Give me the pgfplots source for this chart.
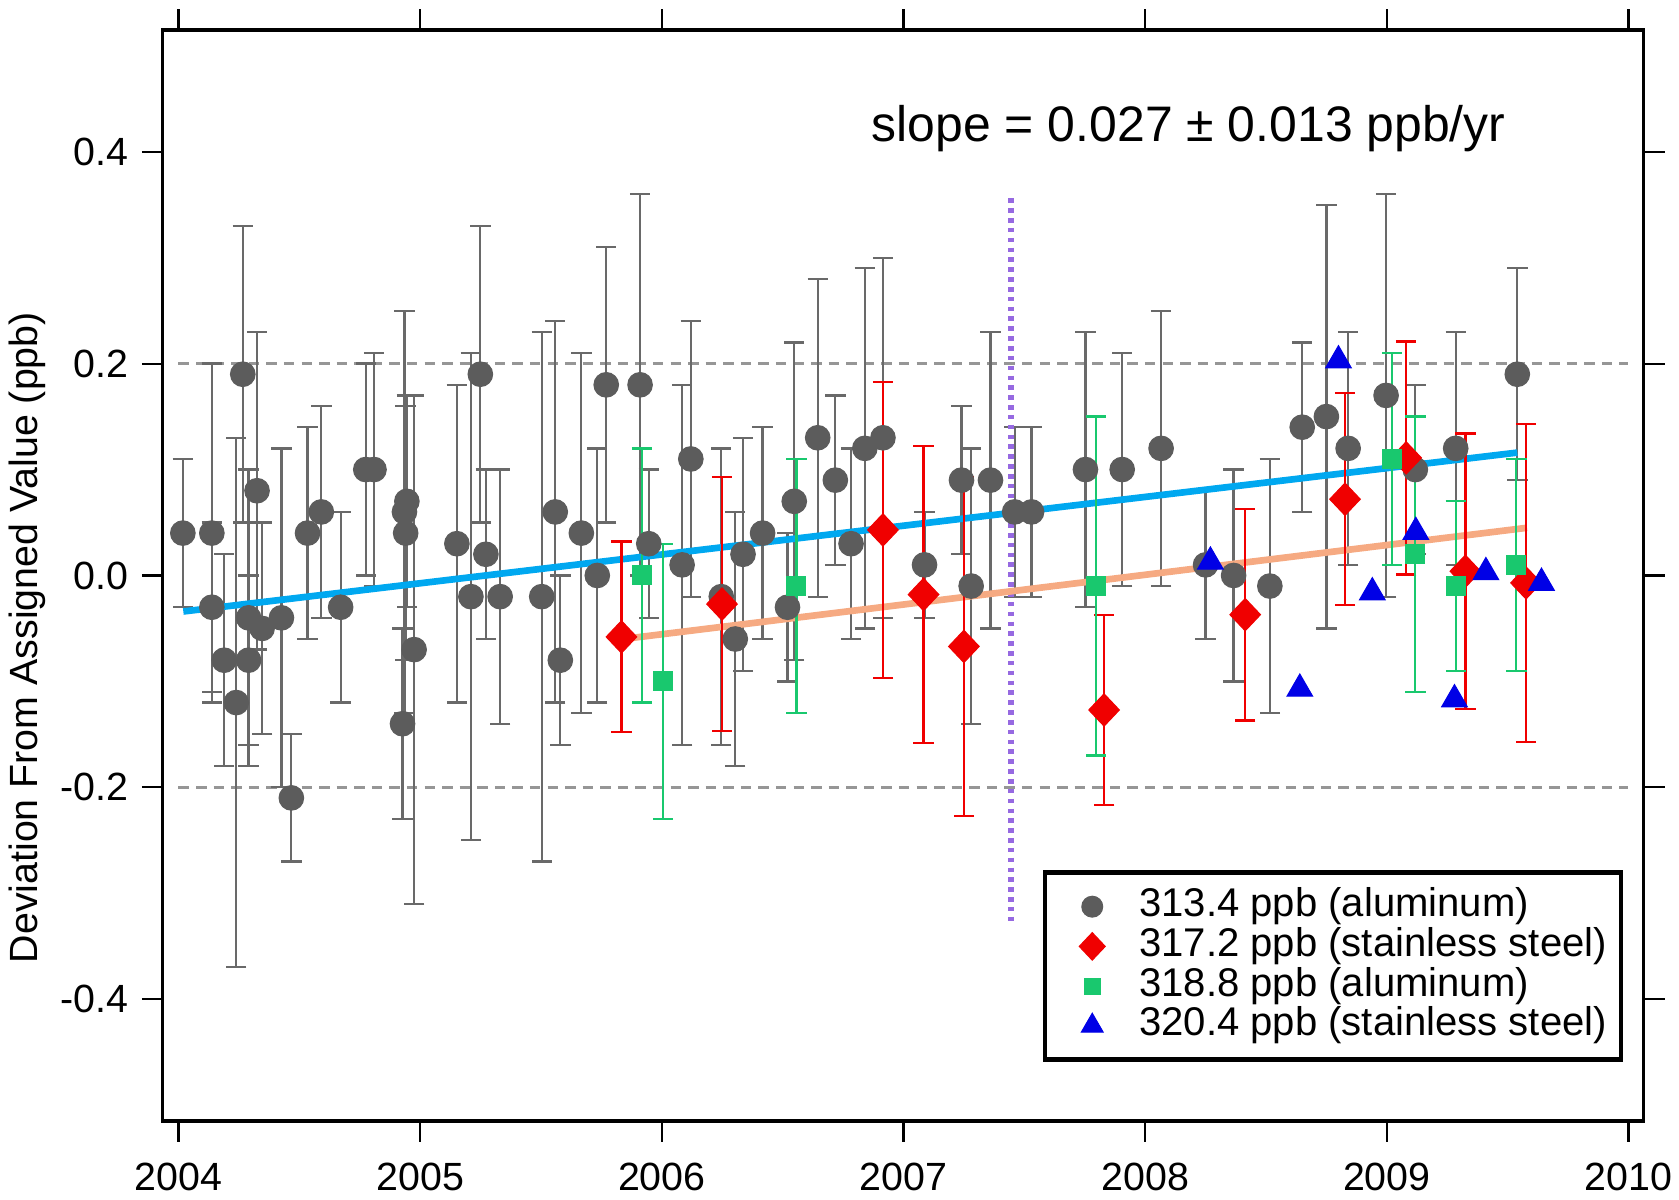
\documentclass[border=0pt]{standalone}
\usepackage{pgfplots}
\usepackage{pgfplotstable}
\pgfplotsset{compat=1.18}
\usepackage{fontspec}
\setmainfont{Liberation Sans}
\definecolor{cgray}{RGB}{92,92,92}
\definecolor{cbar}{RGB}{105,105,105}
\definecolor{cred}{RGB}{240,0,0}
\definecolor{cgreen}{RGB}{25,200,110}
\definecolor{cblue}{RGB}{0,0,230}
\definecolor{cline}{RGB}{0,168,240}
\definecolor{corange}{RGB}{246,170,130}
\definecolor{cpurple}{RGB}{150,105,225}
\definecolor{cdash}{RGB}{150,150,150}

\pgfplotstableread{
x y e
2004.018 0.04 0.07
2004.138 0.04 0.16
2004.138 -0.03 0.08
2004.189 -0.08 0.10
2004.239 -0.12 0.25
2004.266 0.19 0.14
2004.290 -0.04 0.14
2004.290 -0.08 0.08
2004.325 0.08 0.15
2004.346 -0.05 0.10
2004.426 -0.04 0.16
2004.467 -0.21 0.06
2004.534 0.04 0.10
2004.591 0.06 0.10
2004.671 -0.03 0.09
2004.775 0.10 0.10
2004.809 0.10 0.11
2004.927 -0.14 0.09
2004.935 0.06 0.19
2004.945 0.07 0.10
2004.940 0.04 0.12
2004.975 -0.07 0.24
2005.152 0.03 0.15
2005.210 -0.02 0.23
2005.249 0.19 0.14
2005.272 0.02 0.08
2005.331 -0.02 0.12
2005.503 -0.02 0.25
2005.559 0.06 0.18
2005.580 -0.08 0.08
2005.667 0.04 0.17
2005.733 0.00 0.12
2005.770 0.18 0.13
2005.910 0.18 0.18
2005.946 0.03 0.07
2006.084 0.01 0.17
2006.120 0.11 0.13
2006.246 -0.02 0.14
2006.304 -0.06 0.12
2006.336 0.02 0.11
2006.417 0.04 0.10
2006.520 -0.03 0.07
2006.548 0.07 0.15
2006.645 0.13 0.15
2006.718 0.09 0.08
2006.783 0.03 0.09
2006.840 0.12 0.17
2006.915 0.13 0.17
2007.087 0.01 0.05
2007.240 0.09 0.07
2007.280 -0.01 0.13
2007.360 0.09 0.14
2007.460 0.06 0.08
2007.530 0.06 0.08
2007.753 0.10 0.13
2007.905 0.10 0.11
2008.066 0.12 0.13
2008.250 0.01 0.07
2008.366 0.00 0.10
2008.516 -0.01 0.12
2008.650 0.14 0.08
2008.750 0.15 0.20
2008.840 0.12 0.11
2008.997 0.17 0.19
2009.118 0.10 0.08
2009.285 0.12 0.11
2009.540 0.19 0.10
}\graydata

\pgfplotstableread{
x y e
2005.833 -0.058 0.09
2006.249 -0.027 0.12
2006.915 0.043 0.14
2007.083 -0.018 0.14
2007.250 -0.067 0.16
2007.830 -0.127 0.09
2008.414 -0.037 0.10
2008.827 0.072 0.10
2009.080 0.111 0.11
2009.325 0.004 0.13
2009.576 -0.007 0.15
}\reddata

\pgfplotstableread{
x y e
2005.918 0.00 0.12
2006.004 -0.10 0.13
2006.557 -0.01 0.12
2007.797 -0.01 0.16
2009.022 0.11 0.10
2009.118 0.02 0.13
2009.285 -0.01 0.08
2009.536 0.01 0.10
}\greendata

\pgfplotstableread{
x y
2008.27 0.013
2008.64 -0.107
2008.80 0.203
2008.94 -0.016
2009.12 0.041
2009.28 -0.117
2009.41 0.003
2009.64 -0.007
}\bluedata

\begin{document}
\fontsize{11.2pt}{13pt}\selectfont
\begin{tikzpicture}
\begin{axis}[
  name=ax,
  scale only axis,
  width=14.81cm, height=10.91cm,
  xmin=2003.935, xmax=2010.063,
  ymin=-0.515, ymax=0.515,
  xtick={2004,2005,2006,2007,2008,2009,2010},
  xticklabels={2004,2005,2006,2007,2008,2009,2010},
  ytick={-0.4,-0.2,0,0.2,0.4},
  yticklabels={-0.4,-0.2,0.0,0.2,0.4},
  tick align=outside,
  major tick length=0.21cm,
  tick style={black, line width=0.6pt},
  axis line style={line width=0.9pt},
  every tick label/.append style={font=\fontsize{11.2pt}{13pt}\selectfont},
  xticklabel style={yshift=-2pt},
  ylabel={Deviation From Assigned Value (ppb)},
  ylabel style={at={(axis description cs:-0.0918,0.443)}, anchor=center, font=\fontsize{11.2pt}{13pt}\selectfont},
  legend cell align=left,
  legend image code/.code={%
    \path[draw=none,fill=none] (0cm,0cm) (0.80cm,0cm);
    \draw[/tikz/every mark/.append style={scale=0.85}] plot coordinates {(0.33cm,0cm)};},
  legend style={at={(0.9862,0.054)}, anchor=south east, draw=black, line width=1.3pt,
    inner xsep=4pt, inner ysep=4pt, font=\fontsize{11.4pt}{13pt}\selectfont,
    nodes={inner sep=0pt, text height=8.5pt, text depth=2.8pt},
    /tikz/every odd column/.append style={column sep=0pt}},
  clip=false,
]
\coordinate (bl) at (rel axis cs:0,0);
\coordinate (tr) at (rel axis cs:1,1);

\addplot[forget plot, cdash, line width=0.7pt, dash pattern=on 3pt off 2pt] coordinates {(2004,0.2) (2010,0.2)};
\addplot[forget plot, cdash, line width=0.7pt, dash pattern=on 3pt off 2pt] coordinates {(2004,-0.2) (2010,-0.2)};

\addplot[color=cgray, only marks, mark=*,
  mark options={fill=cgray, draw=cgray, line width=0.3pt, mark size=3.5pt},
  error bars/.cd, y dir=both, y explicit,
  error bar style={color=cbar, line width=0.65pt},
  error mark options={rotate=90, mark size=2.9pt, line width=0.65pt, color=cbar}]
  table[x=x, y=y, y error=e] {\graydata};

\addplot[forget plot, cpurple, line width=1.8pt, dash pattern=on 1.3pt off 1.5pt] coordinates {(2007.446,0.356) (2007.446,-0.33)};

\addplot[forget plot, cline, line width=1.9pt] coordinates {(2004.02,-0.034) (2009.54,0.116)};
\addplot[forget plot, corange, line width=1.9pt] coordinates {(2005.84,-0.060) (2009.58,0.045)};

\addplot[color=cred, only marks, mark=diamond*,
  mark options={fill=cred, draw=cred, line width=0.3pt, xscale=1.26, mark size=4.6pt},
  error bars/.cd, y dir=both, y explicit,
  error bar style={color=cred, line width=0.65pt},
  error mark options={rotate=90, mark size=2.9pt, line width=0.65pt, color=cred}]
  table[x=x, y=y, y error=e] {\reddata};

\addplot[color=cgreen, only marks, mark=square*,
  mark options={fill=cgreen, draw=cgreen, line width=0.3pt, mark size=2.7pt},
  error bars/.cd, y dir=both, y explicit,
  error bar style={color=cgreen, line width=0.65pt},
  error mark options={rotate=90, mark size=2.9pt, line width=0.65pt, color=cgreen}]
  table[x=x, y=y, y error=e] {\greendata};

\addplot[color=cblue, only marks, mark=triangle*,
  mark options={fill=cblue, draw=cblue, line width=0.3pt, mark size=4.2pt}]
  table[x=x, y=y] {\bluedata};

\node[font=\fontsize{14.2pt}{16pt}\selectfont] at (rel axis cs:0.6927,0.9097) {slope = 0.027 ± 0.013 ppb/yr};

\legend{313.4 ppb (aluminum), 317.2 ppb (stainless steel), 318.8 ppb (aluminum), 320.4 ppb (stainless steel)}
\end{axis}
\pgfresetboundingbox
\path ([xshift=-1.628cm,yshift=-0.79cm]bl) rectangle ([xshift=0.353cm,yshift=0.30cm]tr);
\end{tikzpicture}
\end{document}
